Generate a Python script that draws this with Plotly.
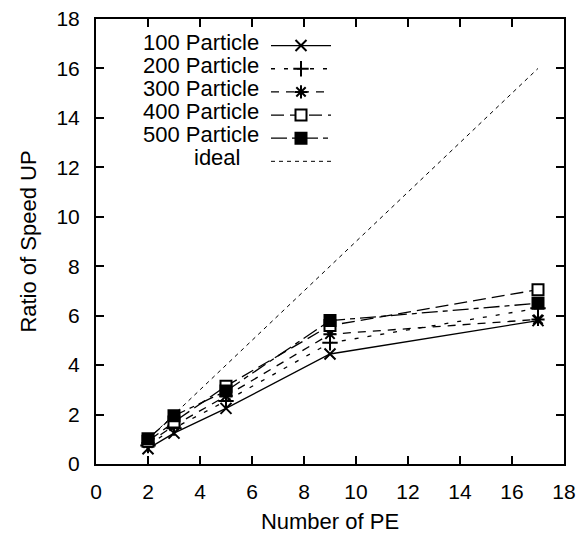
import plotly.graph_objects as go

# Speed-up ratio measured for each particle count versus number of PEs
pe = [2, 3, 5, 9, 17]
p100 = [0.62, 1.25, 2.25, 4.45, 5.8]
p200 = [0.75, 1.45, 2.55, 4.9, 6.3]
p300 = [0.85, 1.55, 2.75, 5.25, 5.85]
p400 = [0.92, 1.7, 3.15, 5.6, 7.05]
p500 = [1.02, 1.95, 2.95, 5.8, 6.5]
ideal = [1, 2, 4, 8, 16]

labels = ["100 Particle", "200 Particle", "300 Particle",
          "400 Particle", "500 Particle", "ideal"]

FONT = "Liberation Sans, Arial, sans-serif"

series = [
    (p100, "solid", "x-thin-open", "black"),
    (p200, "4px,9px", "cross-thin-open", "black"),
    (p300, "8px,7px", "asterisk-open", "black"),
    (p400, "13px,6px", "square", "white"),
    (p500, "16px,5px,5px,5px", "square", "black"),
]

fig = go.Figure()
for ys, dash, sym, fill in series:
    fig.add_trace(go.Scatter(
        x=pe, y=ys, mode="lines+markers", name="",
        line=dict(color="black", width=1.3, dash=dash),
        marker=dict(symbol=sym, size=11, color=fill,
                    line=dict(color="black", width=2)),
    ))
fig.add_trace(go.Scatter(
    x=pe, y=ideal, mode="lines", name="",
    line=dict(color="black", width=1, dash="4px,4px"),
))

# legend labels sit to the left of the line samples
W, H = 587, 534
ML, MR, MT, MB = 96, 23, 19, 70
pw, ph = W - ML - MR, H - MT - MB
row0, rowgap = 42, 23
for i, lab in enumerate(labels):
    right = 260 if i < 5 else 241
    fig.add_annotation(
        x=(right - ML) / pw, y=(H - MB - (row0 + rowgap * i)) / ph,
        xref="paper", yref="paper", xanchor="right", yanchor="middle",
        height=22, borderpad=0,
        text=lab, showarrow=False, font=dict(size=22, color="black", family=FONT),
    )

axis_common = dict(
    range=[0, 18], dtick=2, tick0=0, automargin=False,
    showline=True, linecolor="black", linewidth=2, mirror="allticks",
    ticks="inside", ticklen=8, tickwidth=1.5, tickcolor="black",
    showgrid=False, zeroline=False,
    tickfont=dict(size=21, color="black", family=FONT),
)

fig.update_layout(
    width=W, height=H,
    margin=dict(l=ML, r=MR, t=MT, b=MB, pad=0),
    paper_bgcolor="white", plot_bgcolor="white",
    font=dict(family=FONT, color="black"),
    xaxis=dict(axis_common, title=dict(text="Number of PE", font=dict(size=22), standoff=11),
               ticklabelstandoff=8),
    yaxis=dict(axis_common, title=dict(text="Ratio of Speed UP", font=dict(size=22), standoff=14),
               ticklabelstandoff=10),
    showlegend=True,
    legend=dict(x=(266 - ML) / pw, y=1 - (29 - MT) / ph, xanchor="left", yanchor="top",
                bgcolor="rgba(0,0,0,0)", borderwidth=0, itemwidth=60,
                font=dict(size=15.5), tracegroupgap=0),
)

fig.write_html("out.html")
